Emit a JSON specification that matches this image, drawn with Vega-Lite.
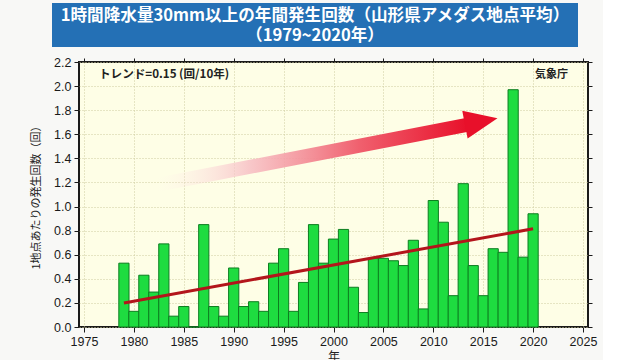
{
  "$schema": "https://vega.github.io/schema/vega-lite/v6.json",
  "background": "#f8f8f6",
  "padding": {"left": 29, "top": 3, "right": 5, "bottom": 0},
  "spacing": 8,
  "config": {"font": "Liberation Sans"},
  "datasets": {
    "bars": [
      {"year": 1979, "count": 0.53}, {"year": 1980, "count": 0.13}, {"year": 1981, "count": 0.43},
      {"year": 1982, "count": 0.29}, {"year": 1983, "count": 0.69}, {"year": 1984, "count": 0.09},
      {"year": 1985, "count": 0.17}, {"year": 1986, "count": 0.0}, {"year": 1987, "count": 0.85},
      {"year": 1988, "count": 0.17}, {"year": 1989, "count": 0.09}, {"year": 1990, "count": 0.49},
      {"year": 1991, "count": 0.17}, {"year": 1992, "count": 0.21}, {"year": 1993, "count": 0.13},
      {"year": 1994, "count": 0.53}, {"year": 1995, "count": 0.65}, {"year": 1996, "count": 0.13},
      {"year": 1997, "count": 0.37}, {"year": 1998, "count": 0.85}, {"year": 1999, "count": 0.53},
      {"year": 2000, "count": 0.73}, {"year": 2001, "count": 0.81}, {"year": 2002, "count": 0.33},
      {"year": 2003, "count": 0.12}, {"year": 2004, "count": 0.57}, {"year": 2005, "count": 0.57},
      {"year": 2006, "count": 0.55}, {"year": 2007, "count": 0.51}, {"year": 2008, "count": 0.72},
      {"year": 2009, "count": 0.15}, {"year": 2010, "count": 1.05}, {"year": 2011, "count": 0.87},
      {"year": 2012, "count": 0.26}, {"year": 2013, "count": 1.19}, {"year": 2014, "count": 0.51},
      {"year": 2015, "count": 0.26}, {"year": 2016, "count": 0.65}, {"year": 2017, "count": 0.62},
      {"year": 2018, "count": 1.97}, {"year": 2019, "count": 0.58}, {"year": 2020, "count": 0.94}
    ],
    "trend": [{"year": 1979, "trend": 0.2}, {"year": 2020, "trend": 0.815}],
    "arrow": [{"year": 1982.3, "value": 1.18}, {"year": 2013.5, "value": 1.68}]
  },
  "vconcat": [
    {
      "width": 526,
      "height": 44,
      "view": {"fill": "#2470b5", "stroke": null},
      "data": {"values": [{"k": 1}]},
      "layer": [
        {
          "mark": {
            "type": "text", "text": "1時間降水量30mm以上の年間発生回数（山形県アメダス地点平均）",
            "color": "white", "font": "Noto Sans CJK JP", "fontWeight": "bold", "fontSize": 16.6,
            "align": "center", "baseline": "middle", "dy": -9
          }
        },
        {
          "mark": {
            "type": "text", "text": "（1979~2020年）",
            "color": "white", "font": "Noto Sans CJK JP", "fontWeight": "bold", "fontSize": 16.6,
            "align": "center", "baseline": "middle", "dy": 11
          }
        }
      ]
    },
    {
      "spacing": -24,
      "hconcat": [
        {
          "width": 1,
          "height": 1,
          "view": {"stroke": null, "fill": null},
          "data": {"values": [{"k": 1}]},
          "mark": {"type": "text", "text": ""}
        },
        {
          "width": 509,
          "height": 265,
          "view": {"fill": "#fefee6", "stroke": "#1a1a1a", "strokeWidth": 2},
          "resolve": {"axis": {"x": "independent", "y": "independent"}},
          "layer": [
            {
              "data": {"name": "bars"},
              "mark": {"type": "bar", "size": 10.2, "fill": "#1edc40", "stroke": "#0d7d20", "strokeWidth": 1},
              "encoding": {
                "x": {
                  "field": "year", "type": "quantitative",
                  "scale": {"domain": [1975, 2025], "nice": false, "zero": false},
                  "axis": {
                    "values": [1975, 1980, 1985, 1990, 1995, 2000, 2005, 2010, 2015, 2020, 2025],
                    "format": "d", "title": "年", "grid": true, "gridColor": "#cfcca0", "gridDash": [1, 2],
                    "domain": false, "tickColor": "#1a1a1a", "tickSize": 5, "labelPadding": 3,
                    "labelFontSize": 12.5, "labelColor": "#1a1a1a",
                    "titleFont": "Noto Sans CJK JP", "titleFontWeight": "normal", "titleFontSize": 12,
                    "titleColor": "#222", "titlePadding": 4
                  }
                },
                "y": {
                  "field": "count", "type": "quantitative",
                  "scale": {"domain": [0, 2.2], "nice": false},
                  "axis": {
                    "values": [0, 0.2, 0.4, 0.6, 0.8, 1.0, 1.2, 1.4, 1.6, 1.8, 2.0, 2.2],
                    "format": ".1f", "title": "1地点あたりの発生回数（回）", "grid": true,
                    "gridColor": "#cfcca0", "gridDash": [1, 2], "domain": false,
                    "tickColor": "#1a1a1a", "tickSize": 5, "labelPadding": 3,
                    "labelFontSize": 12.5, "labelColor": "#1a1a1a",
                    "titleFont": "Noto Sans CJK JP", "titleFontWeight": "normal", "titleFontSize": 11,
                    "titleColor": "#222", "titlePadding": 12
                  }
                }
              }
            },
            {
              "data": {"name": "trend"},
              "mark": {"type": "line", "color": "#b3151b", "strokeWidth": 3},
              "encoding": {
                "x": {
                  "field": "year", "type": "quantitative",
                  "scale": {"domain": [1975, 2025], "nice": false, "zero": false},
                  "axis": {
                    "orient": "top", "labels": false, "title": null, "grid": false, "domain": false,
                    "values": [1975, 1980, 1985, 1990, 1995, 2000, 2005, 2010, 2015, 2020, 2025],
                    "tickColor": "#1a1a1a", "tickSize": 4
                  }
                },
                "y": {
                  "field": "trend", "type": "quantitative",
                  "scale": {"domain": [0, 2.2], "nice": false},
                  "axis": {
                    "orient": "right", "labels": false, "title": null, "grid": false, "domain": false,
                    "values": [0, 0.2, 0.4, 0.6, 0.8, 1.0, 1.2, 1.4, 1.6, 1.8, 2.0, 2.2],
                    "tickColor": "#1a1a1a", "tickSize": 4
                  }
                }
              }
            },
            {
              "data": {"name": "arrow"},
              "mark": {
                "type": "line", "strokeWidth": 14, "strokeCap": "butt",
                "color": {
                  "gradient": "linear", "x1": 0, "y1": 0, "x2": 1, "y2": 0,
                  "stops": [
                    {"offset": 0, "color": "rgba(255,240,240,0)"},
                    {"offset": 0.3, "color": "rgba(247,190,196,0.85)"},
                    {"offset": 0.65, "color": "#f0606e"},
                    {"offset": 1, "color": "#e8102a"}
                  ]
                }
              },
              "encoding": {
                "x": {"field": "year", "type": "quantitative", "axis": null, "scale": {"domain": [1975, 2025], "nice": false, "zero": false}},
                "y": {"field": "value", "type": "quantitative", "axis": null, "scale": {"domain": [0, 2.2], "nice": false}}
              }
            },
            {
              "data": {"values": [{"k": 1}]},
              "mark": {"type": "point", "shape": "M -1 -0.85 L 1 0 L -1 0.85 Z", "filled": true, "color": "#e8102a", "opacity": 1, "size": 1100, "angle": 349},
              "encoding": {
                "x": {"datum": 2014.8, "type": "quantitative", "axis": null},
                "y": {"datum": 1.706, "type": "quantitative", "axis": null}
              }
            },
            {
              "data": {"values": [{"k": 1}]},
              "mark": {"type": "text", "text": "トレンド=0.15 (回/10年)", "font": "Noto Sans CJK JP", "fontSize": 11.6, "fontWeight": "bold", "color": "#222", "align": "left", "baseline": "middle"},
              "encoding": {
                "x": {"datum": 1976.5, "type": "quantitative", "axis": null},
                "y": {"datum": 2.09, "type": "quantitative", "axis": null}
              }
            },
            {
              "data": {"values": [{"k": 1}]},
              "mark": {"type": "text", "text": "気象庁", "font": "Noto Sans CJK JP", "fontSize": 11, "fontWeight": "bold", "color": "#222", "align": "right", "baseline": "middle"},
              "encoding": {
                "x": {"datum": 2023.5, "type": "quantitative", "axis": null},
                "y": {"datum": 2.09, "type": "quantitative", "axis": null}
              }
            }
          ]
        }
      ]
    }
  ]
}
